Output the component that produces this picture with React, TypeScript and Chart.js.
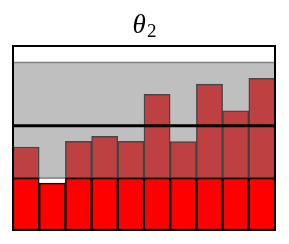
import React, { useEffect, useRef } from "react";
import { Chart, registerables } from "chart.js";

Chart.register(...registerables);

const categories = ["1", "2", "3", "4", "5", "6", "7", "8", "9", "10"];
const redTops = [0.282, 0.255, 0.282, 0.282, 0.282, 0.282, 0.282, 0.282, 0.282, 0.282];
const darkTops: (number | null)[] = [0.451, null, 0.482, 0.509, 0.482, 0.737, 0.481, 0.793, 0.647, 0.824];
const bandLow = 0.282;
const bandHigh = 0.911;
const lineValue = 0.566;
const titleMain = "θ";
const titleSub = "2";

export default function App() {
  const ref = useRef<HTMLCanvasElement>(null);
  useEffect(() => {
    if (!ref.current) return;
    const bandPlugin = {
      id: "band",
      beforeDatasetsDraw(chart: any) {
        const { ctx, chartArea, scales } = chart;
        const y1 = scales.y.getPixelForValue(bandHigh);
        const y0 = scales.y.getPixelForValue(bandLow);
        ctx.save();
        ctx.fillStyle = "#bfbfbf";
        ctx.fillRect(chartArea.left, y1, chartArea.right - chartArea.left, y0 - y1);
        ctx.strokeStyle = "#7f7f7f";
        ctx.lineWidth = 1.5;
        ctx.beginPath();
        ctx.moveTo(chartArea.left, y1);
        ctx.lineTo(chartArea.right, y1);
        ctx.moveTo(chartArea.left, y0);
        ctx.lineTo(chartArea.right, y0);
        ctx.stroke();
        ctx.restore();
      },
      afterDatasetsDraw(chart: any) {
        const { ctx, chartArea, scales } = chart;
        const yl = scales.y.getPixelForValue(lineValue);
        ctx.save();
        ctx.strokeStyle = "#000";
        ctx.lineWidth = 3;
        ctx.beginPath();
        ctx.moveTo(chartArea.left, yl);
        ctx.lineTo(chartArea.right, yl);
        ctx.stroke();
        ctx.lineWidth = 2;
        ctx.strokeRect(chartArea.left, chartArea.top, chartArea.right - chartArea.left, chartArea.bottom - chartArea.top);
        // title
        const cx = (chartArea.left + chartArea.right) / 2;
        ctx.fillStyle = "#000";
        ctx.textBaseline = "alphabetic";
        ctx.font = "italic 27px 'Liberation Serif'";
        const w1 = ctx.measureText(titleMain).width;
        ctx.font = "19px 'Liberation Serif'";
        const w2 = ctx.measureText(titleSub).width;
        const start = cx - (w1 + w2) / 2;
        ctx.font = "italic 27px 'Liberation Serif'";
        ctx.textAlign = "left";
        ctx.fillText(titleMain, start, 33);
        ctx.font = "19px 'Liberation Serif'";
        ctx.fillText(titleSub, start + w1 + 1, 37);
        ctx.restore();
      },
    };
    const chart = new Chart(ref.current, {
      type: "bar",
      data: {
        labels: categories,
        datasets: [
          {
            data: darkTops.map((v) => (v == null ? null : [bandLow, v])) as any,
            backgroundColor: "#bf4041",
            borderColor: "rgba(40,40,40,0.8)",
            borderWidth: 1.5,
            borderSkipped: false,
            grouped: false,
            barPercentage: 1,
            categoryPercentage: 1,
          },
          {
            data: redTops,
            backgroundColor: "#ff0000",
            borderColor: "#000",
            borderWidth: 1.5,
            borderSkipped: false,
            grouped: false,
            barPercentage: 1,
            categoryPercentage: 1,
          },
        ],
      },
      options: {
        responsive: false,
        animation: false,
        layout: { padding: { left: 13, right: 14, top: 46, bottom: 14 } },
        plugins: { legend: { display: false }, title: { display: false }, tooltip: { enabled: false } },
        scales: {
          x: { display: false, offset: true },
          y: { display: false, min: 0, max: 1 },
        },
      },
      plugins: [bandPlugin],
    });
    return () => chart.destroy();
  }, []);
  return (
    <div style={{ position: "fixed", left: 0, top: 0, width: 289, height: 244, background: "#fff" }}>
      <canvas ref={ref} width={289} height={244} />
    </div>
  );
}
